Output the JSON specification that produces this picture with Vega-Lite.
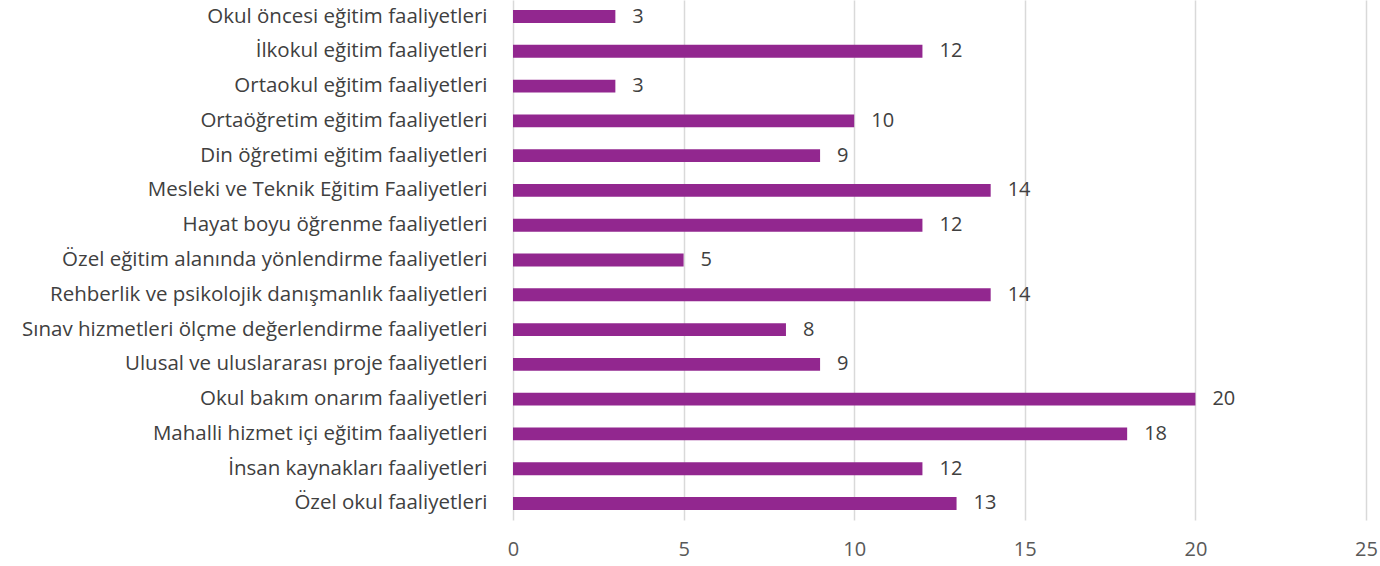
{
  "$schema": "https://vega.github.io/schema/vega-lite/v6.json",
  "autosize": "none",
  "padding": {"left": 513, "top": 0, "right": 14, "bottom": 46},
  "width": 853,
  "height": 520,
  "background": "white",
  "config": {"view": {"stroke": null}, "font": "Open Sans"},
  "data": {
    "values": [
      {"kategori": "Okul öncesi eğitim faaliyetleri", "deger": 3},
      {"kategori": "İlkokul eğitim faaliyetleri", "deger": 12},
      {"kategori": "Ortaokul eğitim faaliyetleri", "deger": 3},
      {"kategori": "Ortaöğretim eğitim faaliyetleri", "deger": 10},
      {"kategori": "Din öğretimi eğitim faaliyetleri", "deger": 9},
      {"kategori": "Mesleki ve Teknik Eğitim Faaliyetleri", "deger": 14},
      {"kategori": "Hayat boyu öğrenme faaliyetleri", "deger": 12},
      {"kategori": "Özel eğitim alanında yönlendirme faaliyetleri", "deger": 5},
      {"kategori": "Rehberlik ve psikolojik danışmanlık faaliyetleri", "deger": 14},
      {"kategori": "Sınav hizmetleri ölçme değerlendirme faaliyetleri", "deger": 8},
      {"kategori": "Ulusal ve uluslararası proje faaliyetleri", "deger": 9},
      {"kategori": "Okul bakım onarım faaliyetleri", "deger": 20},
      {"kategori": "Mahalli hizmet içi eğitim faaliyetleri", "deger": 18},
      {"kategori": "İnsan kaynakları faaliyetleri", "deger": 12},
      {"kategori": "Özel okul faaliyetleri", "deger": 13}
    ]
  },
  "encoding": {
    "y": {
      "field": "kategori", "type": "nominal", "sort": null,
      "scale": {"paddingInner": 0.63, "paddingOuter": 0.29},
      "axis": {"title": null, "domain": false, "ticks": false, "labelPadding": 26, "labelFontSize": 20.5, "labelColor": "#404040", "labelLimit": 0, "grid": false}
    },
    "x": {
      "field": "deger", "type": "quantitative",
      "scale": {"domain": [0, 25], "nice": false},
      "axis": {"title": null, "domain": false, "ticks": false, "values": [0, 5, 10, 15, 20, 25], "labelPadding": 19, "labelFontSize": 20, "labelColor": "#595959", "labelFlush": false, "grid": true, "gridColor": "#d9d9d9", "gridWidth": 1.5}
    }
  },
  "layer": [
    {"mark": {"type": "bar", "color": "#92278F"}},
    {"mark": {"type": "text", "align": "left", "dx": 17, "fontSize": 20, "color": "#404040"}, "encoding": {"text": {"field": "deger", "type": "quantitative"}}}
  ]
}
